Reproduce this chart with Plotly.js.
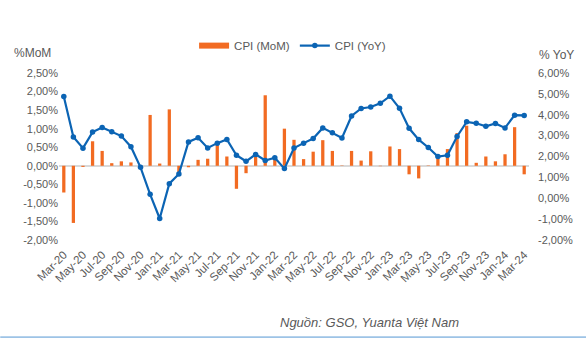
<!DOCTYPE html>
<html>
<head>
<meta charset="utf-8">
<script src="https://cdn.plot.ly/plotly-3.0.1.min.js"></script>
<style>html,body{margin:0;padding:0;background:#fff;}#chart{width:586px;height:338px;}</style>
</head>
<body>
<div id="chart"></div>
<script>
const months = ["Mar-20","Apr-20","May-20","Jun-20","Jul-20","Aug-20","Sep-20","Oct-20","Nov-20","Dec-20",
"Jan-21","Feb-21","Mar-21","Apr-21","May-21","Jun-21","Jul-21","Aug-21","Sep-21","Oct-21","Nov-21","Dec-21",
"Jan-22","Feb-22","Mar-22","Apr-22","May-22","Jun-22","Jul-22","Aug-22","Sep-22","Oct-22","Nov-22","Dec-22",
"Jan-23","Feb-23","Mar-23","Apr-23","May-23","Jun-23","Jul-23","Aug-23","Sep-23","Oct-23","Nov-23","Dec-23",
"Jan-24","Feb-24","Mar-24"];
const cpiMoM = [-0.72,-1.54,-0.03,0.66,0.40,0.07,0.12,0.09,-0.01,1.37,
0.06,1.52,-0.22,-0.04,0.16,0.19,0.60,0.25,-0.62,-0.20,0.25,1.90,
0.20,1.00,0.70,0.18,0.38,0.69,0.40,0.01,0.40,0.14,0.39,-0.01,
0.52,0.45,-0.23,-0.34,0.01,0.20,0.45,0.88,1.08,0.08,0.25,0.12,
0.31,1.04,-0.23];
const cpiYoY = [4.87,2.93,2.40,3.17,3.39,3.18,2.98,2.47,1.48,0.19,
-0.97,0.70,1.16,2.70,2.90,2.41,2.64,2.82,2.06,1.77,2.10,1.81,
1.94,1.42,2.41,2.64,2.86,3.37,3.14,2.89,3.94,4.30,4.37,4.55,
4.89,4.31,3.35,2.81,2.43,2.00,2.06,2.96,3.66,3.59,3.45,3.58,
3.37,3.98,3.97];
const xTicks = ["Mar-20","May-20","Jul-20","Sep-20","Nov-20","Jan-21","Mar-21","May-21","Jul-21","Sep-21","Nov-21",
"Jan-22","Mar-22","May-22","Jul-22","Sep-22","Nov-22","Jan-23","Mar-23","May-23","Jul-23","Sep-23","Nov-23","Jan-24","Mar-24"];
const leftTickVals = [-2,-1.5,-1,-0.5,0,0.5,1,1.5,2,2.5];
const leftTickText = ["-2,00%","-1,50%","-1,00%","-0,50%","0,00%","0,50%","1,00%","1,50%","2,00%","2,50%"];
const rightTickVals = [-2,-1,0,1,2,3,4,5,6];
const rightTickText = ["-2,00%","-1,00%","0,00%","1,00%","2,00%","3,00%","4,00%","5,00%","6,00%"];

const FONT = "Liberation Sans, Arial, sans-serif";
const GRAY = "#595959";
const ORANGE = "#F26B22";
const BLUE = "#0B64B4";

const traces = [
  {type:"bar", name:"CPI (MoM)", x:months, y:cpiMoM, yaxis:"y", showlegend:false,
   marker:{color:ORANGE}, hoverinfo:"skip"},
  {type:"scatter", mode:"lines", name:"CPI (MoM)", x:[null], y:[null], yaxis:"y",
   line:{color:ORANGE, width:6}, hoverinfo:"skip", showlegend:true},
  {type:"scatter", mode:"lines+markers", name:"CPI (YoY)", x:months, y:cpiYoY, yaxis:"y2",
   line:{color:BLUE, width:2.2}, marker:{color:BLUE, size:5.5}, hoverinfo:"skip"}
];

const layout = {
  width:586, height:338,
  margin:{l:58.5, r:57.2, t:73.3, b:98, pad:0},
  paper_bgcolor:"#fff", plot_bgcolor:"#fff",
  font:{family:FONT, color:GRAY, size:11},
  bargap:0.66,
  showlegend:true,
  legend:{orientation:"h", x:0.497, xanchor:"center", y:1.164, yanchor:"middle",
          font:{family:FONT, size:11.5, color:GRAY}, bgcolor:"rgba(0,0,0,0)", itemwidth:30,
          tracegroupgap:0},
  xaxis:{type:"category", range:[-0.5, months.length-0.5], tickmode:"array", tickvals:xTicks, ticktext:xTicks,
         tickangle:-45, showgrid:false, showline:false, ticks:"", zeroline:false, ticklabelstandoff:5,
         tickfont:{family:FONT, size:11.5, color:GRAY}},
  yaxis:{range:[-2,2.5], tickmode:"array", tickvals:leftTickVals, ticktext:leftTickText,
         showgrid:false, zeroline:true, zerolinecolor:"#D9D9D9", zerolinewidth:2,
         showline:false, ticks:"", tickfont:{family:FONT, size:11, color:GRAY}},
  yaxis2:{range:[-2,6], overlaying:"y", side:"right", tickmode:"array", tickvals:rightTickVals, ticktext:rightTickText,
          showgrid:false, zeroline:false, showline:false, ticks:"", ticklabelstandoff:8,
          tickfont:{family:FONT, size:11, color:GRAY}},
  annotations:[
    {text:"%MoM", xref:"paper", yref:"paper", x:-0.1, y:1.12, xanchor:"left", yanchor:"middle",
     showarrow:false, font:{family:FONT, size:12, color:GRAY}},
    {text:"% YoY", xref:"paper", yref:"paper", x:1.017, y:1.108, xanchor:"left", yanchor:"middle",
     showarrow:false, font:{family:FONT, size:12, color:GRAY}},
    {text:"<i>Nguồn: GSO, Yuanta Việt Nam</i>", xref:"paper", yref:"paper", x:0.855, y:-0.495, xanchor:"right", yanchor:"middle",
     showarrow:false, font:{family:FONT, size:13, color:GRAY}}
  ],
  shapes:[
    {type:"line", xref:"paper", yref:"paper", x0:-0.125, x1:1.125, y0:-0.582, y1:-0.582,
     line:{color:"#9DC3E6", width:2}}
  ]
};

Plotly.newPlot("chart", traces, layout, {staticPlot:true, displayModeBar:false});
</script>
</body>
</html>
